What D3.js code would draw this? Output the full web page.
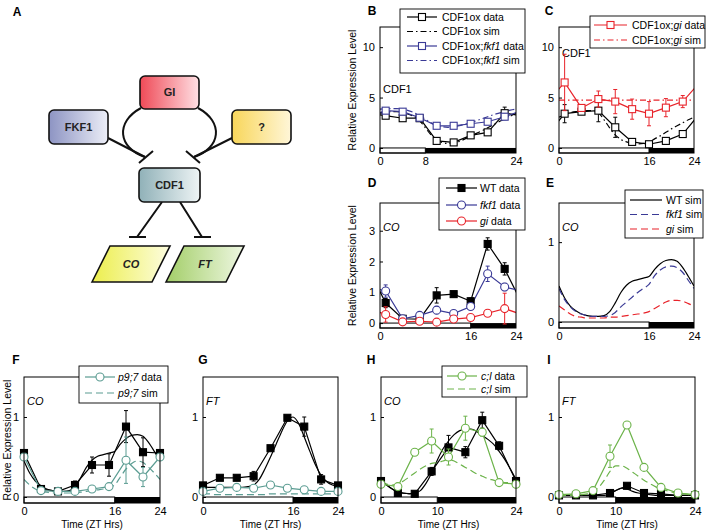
<!DOCTYPE html>
<html>
<head>
<meta charset="utf-8">
<script src="https://cdn.jsdelivr.net/npm/d3@7"></script>
<style>
body { margin: 0; background: #fff; }
svg { font-family: "Liberation Sans", Arial, sans-serif; }
</style>
</head>
<body>
<svg id="fig" width="709" height="532"></svg>
<script>
// ---- sample times ----
var hoursB = [1, 4, 7, 10, 13, 16, 19, 22];          // panels B-D, wrap around the day
var hoursF = [0, 3, 6, 9, 12, 15, 18, 21, 24];       // panels F-I
var simHours = [0,1,2,3,4,5,6,7,8,9,10,11,12,13,14,15,16,17,18,19,20,21,22,23,24];

// ---- B: CDF1 in CDF1ox / CDF1ox;fkf1 ----
var cdfoxData = [3.2, 2.95, 2.95, 0.7, 0.55, 1.25, 1.55, 3.45];
var cdfoxErr  = [0.15, 0.1, 0.1, 0.15, 0.2, 0.1, 0.1, 0.6];
var cdfoxFkfData = [3.7, 3.6, 3.0, 2.2, 2.2, 2.4, 2.6, 3.1];
var cdfoxFkfErr  = [0.1, 0.1, 0.1, 0.1, 0.1, 0.1, 0.1, 0.3];
var cdfoxSimB = [3.45,3.55,3.6,3.6,3.5,3.35,3.1,2.7,2.0,1.3,0.8,0.55,0.45,0.5,0.65,0.9,1.2,1.45,1.7,2.0,2.3,2.6,2.9,3.15,3.45];
var cdfoxFkfSim = [3.85,3.9,3.9,3.9,3.85,3.7,3.5,3.2,2.85,2.5,2.25,2.1,2.05,2.1,2.2,2.35,2.5,2.7,2.9,3.1,3.3,3.45,3.6,3.75,3.85];

// ---- C: CDF1 in CDF1ox / CDF1ox;gi ----
var cdfoxDataC = [3.4, 3.6, 3.7, 2.05, 0.6, 0.37, 0.7, 1.38];
var cdfoxErrC  = [0.9, 0.1, 1.1, 1.0, 0.1, 0.1, 0.1, 0.1];
var cdfoxGiData = [6.5, 3.97, 4.85, 4.6, 3.85, 3.4, 4.0, 4.6];
var cdfoxGiErr  = [2.8, 0.3, 0.8, 1.2, 1.0, 1.2, 0.9, 0.6];
var cdfoxSimC = [3.05,3.3,3.5,3.6,3.65,3.7,3.7,3.5,2.8,2.0,1.3,0.85,0.6,0.45,0.4,0.45,0.6,0.9,1.2,1.55,1.9,2.2,2.5,2.8,3.05];
var cdfoxGiSim = [4.75,4.75,4.75,4.75,4.75,4.75,4.75,4.75,4.75,4.75,4.75,4.75,4.75,4.75,4.75,4.75,4.75,4.75,4.75,4.75,4.75,4.75,4.75,4.75,4.75];

// ---- D: CO data in WT / fkf1 / gi ----
var coWT   = [0.65, 0.14, 0.13, 0.9, 0.94, 0.71, 2.57, 1.76];
var coWTErr = [0.15, 0.03, 0.03, 0.25, 0.05, 0.1, 0.2, 0.2];
var coFkf1 = [1.04, 0.14, 0.25, 0.42, 0.31, 0.54, 1.6, 1.17];
var coFkf1Err = [0.2, 0.03, 0.03, 0.12, 0.05, 0.05, 0.25, 0.12];
var coGi   = [0.28, 0.04, 0.06, 0.03, 0.13, 0.18, 0.32, 0.47];
var coGiErr = [0.25, 0.02, 0.02, 0.02, 0.03, 0.03, 0.1, 0.5];

// ---- E: CO simulations ----
var simCoWT   = [0.45,0.3,0.2,0.14,0.1,0.08,0.07,0.07,0.08,0.13,0.24,0.37,0.46,0.51,0.53,0.55,0.57,0.66,0.73,0.77,0.78,0.76,0.68,0.57,0.45];
var simCoFkf1 = [0.42,0.28,0.19,0.13,0.1,0.08,0.07,0.07,0.07,0.08,0.12,0.19,0.25,0.31,0.37,0.42,0.47,0.58,0.65,0.69,0.7,0.68,0.62,0.52,0.42];
var simCoGi   = [0.2,0.15,0.1,0.07,0.06,0.05,0.05,0.05,0.05,0.06,0.06,0.07,0.08,0.09,0.1,0.11,0.13,0.17,0.21,0.25,0.27,0.27,0.26,0.23,0.2];

// ---- F, G: p9;7 ----
var coWTF = [0.55, 0.1, 0.07, 0.15, 0.4, 0.4, 0.88, 0.56, 0.55];
var coWTFErr = [0, 0.02, 0.02, 0.05, 0.1, 0.14, 0.2, 0.18, 0];
var coP97 = [0.5, 0.08, 0.07, 0.07, 0.1, 0.13, 0.46, 0.25, 0.5];
var coP97Err = [0, 0, 0, 0, 0.02, 0.03, 0.29, 0.12, 0];
var simCoP97 = [0.22,0.15,0.1,0.07,0.06,0.05,0.05,0.05,0.05,0.05,0.06,0.07,0.08,0.09,0.1,0.12,0.15,0.25,0.35,0.42,0.45,0.43,0.37,0.3,0.22];
var ftWTG = [0.145, 0.24, 0.24, 0.26, 0.61, 0.99, 0.88, 0.22, 0.145];
var ftWTGErr = [0, 0.03, 0.03, 0.06, 0.03, 0.02, 0.12, 0.06, 0];
var ftP97 = [0.07, 0.11, 0.12, 0.11, 0.15, 0.11, 0.09, 0.07, 0.07];
var simFtWT = [0.13,0.12,0.12,0.12,0.12,0.12,0.12,0.12,0.13,0.15,0.22,0.35,0.5,0.66,0.82,0.95,1.0,0.92,0.75,0.57,0.4,0.27,0.19,0.15,0.13];
var simFtP97 = [0.04,0.04,0.03,0.03,0.03,0.03,0.03,0.03,0.03,0.03,0.03,0.03,0.04,0.04,0.04,0.04,0.04,0.04,0.04,0.04,0.04,0.04,0.04,0.04,0.04];

// ---- H, I: c;l ----
var coWTH = [0.2, 0.05, 0.04, 0.32, 0.62, 0.56, 0.96, 0.64, 0.2];
var coWTHErr = [0, 0.01, 0.01, 0.05, 0.15, 0.07, 0.1, 0.05, 0];
var coCl = [0.16, 0.13, 0.56, 0.7, 0.5, 0.86, 0.81, 0.18, 0.16];
var coClErr = [0, 0.02, 0.03, 0.15, 0.1, 0.15, 0.05, 0, 0];
var simCoWTH = [0.22,0.15,0.1,0.07,0.05,0.04,0.05,0.08,0.17,0.3,0.46,0.6,0.7,0.78,0.83,0.85,0.85,0.82,0.77,0.72,0.66,0.57,0.47,0.35,0.22];
var simCoCl = [0.18,0.16,0.15,0.16,0.2,0.25,0.3,0.35,0.39,0.42,0.43,0.45,0.47,0.45,0.41,0.37,0.33,0.29,0.26,0.23,0.21,0.19,0.18,0.18,0.18];
var ftWTI = [0.02, 0.02, 0.02, 0.05, 0.14, 0.05, 0.04, 0.02, 0.02];
var ftCl = [0.03, 0.04, 0.08, 0.51, 0.9, 0.37, 0.12, 0.05, 0.03];
var ftClErr = [0, 0, 0, 0.14, 0, 0, 0, 0, 0];
var simFtWTI = [0.02,0.02,0.02,0.02,0.02,0.02,0.02,0.02,0.02,0.04,0.08,0.11,0.1,0.07,0.05,0.04,0.03,0.02,0.02,0.02,0.02,0.02,0.02,0.02,0.02];
var simFtCl = [0.02,0.02,0.02,0.02,0.03,0.04,0.07,0.12,0.21,0.32,0.39,0.39,0.36,0.31,0.26,0.21,0.17,0.13,0.1,0.08,0.06,0.05,0.04,0.03,0.02];

// ---- styles ----
var BLUE = "#3a3a96", RED = "#e8232a", TEAL = "#5b9c92", GREEN = "#6cb34a";
var dashDot = "6,3,1.5,3", dashed = "7,4";

var svg = d3.select("#fig");
var defs = svg.append("defs");

// ================= Panel A: schematic =================
function grad(id, c0, c1) {
	var lg = defs.append("linearGradient").attr("id", id).attr("x1", "0%").attr("x2", "100%");
	lg.append("stop").attr("offset", "0%").attr("stop-color", c0);
	lg.append("stop").attr("offset", "100%").attr("stop-color", c1);
}
grad("gGI", "#ef4a57", "#ffe0e4");
grad("gFKF", "#8d94c3", "#eceef7");
grad("gQ", "#f8d65a", "#fff6d8");
grad("gCDF", "#90b1b8", "#eef4f5");
grad("gCO", "#ecee4c", "#fdfde0");
grad("gFT", "#a3ce68", "#eef7e2");

var diag = svg.append("g").attr("stroke", "#111").attr("stroke-width", 2).attr("fill", "none");
diag.append("path").attr("d", "M141,108 C115,122 118,148 145,157");
diag.append("path").attr("d", "M198,108 C224,122 221,148 194,157");
diag.append("path").attr("d", "M108,138 L145,157");
diag.append("path").attr("d", "M232,138 L194,157");
diag.append("path").attr("d", "M139,163 L153,151 M186,151 L200,163");
diag.append("path").attr("d", "M162,202 L137,237 M129,237 L146,237");
diag.append("path").attr("d", "M180,202 L202,237 M194,237 L211,237");

var boxes = [
	{ t: "GI", x: 140, y: 76, w: 59, h: 33, f: "gGI" },
	{ t: "FKF1", x: 49, y: 110, w: 59, h: 34, f: "gFKF" },
	{ t: "?", x: 232, y: 110, w: 59, h: 34, f: "gQ" },
	{ t: "CDF1", x: 139, y: 168, w: 61, h: 34, f: "gCDF" }
];
boxes.forEach(function(b) {
	svg.append("rect").attr("x", b.x).attr("y", b.y).attr("width", b.w).attr("height", b.h)
		.attr("rx", 5).attr("fill", "url(#" + b.f + ")").attr("stroke", "#111").attr("stroke-width", 1.6);
	svg.append("text").attr("x", b.x + b.w / 2).attr("y", b.y + b.h / 2).attr("dy", "0.36em")
		.attr("text-anchor", "middle").style("font-size", "11px").style("font-weight", "bold").attr("fill", "#222").text(b.t);
});
var paras = [
	{ t: "CO", p: "M92,282 L110,246 L170,246 L152,282 Z", f: "gCO", cx: 131 },
	{ t: "FT", p: "M166,282 L184,246 L244,246 L226,282 Z", f: "gFT", cx: 205 }
];
paras.forEach(function(b) {
	svg.append("path").attr("d", b.p).attr("fill", "url(#" + b.f + ")").attr("stroke", "#111").attr("stroke-width", 1.6);
	svg.append("text").attr("x", b.cx).attr("y", 264).attr("dy", "0.36em").attr("text-anchor", "middle")
		.style("font-size", "11px").style("font-weight", "bold").style("font-style", "italic").attr("fill", "#222").text(b.t);
});

// ================= chart panels =================
function panel(o) {
	var x = d3.scaleLinear().domain([0, 24]).range([o.left, o.right]);
	var y = d3.scaleLinear().domain(o.ydom).range([o.bottom, o.top]);
	var clipId = "clip" + o.name;
	defs.append("clipPath").attr("id", clipId).append("rect")
		.attr("x", o.left).attr("y", o.top).attr("width", o.right - o.left).attr("height", o.bottom - o.top);
	var g = svg.append("g");
	g.append("rect").attr("x", o.left).attr("y", o.top).attr("width", o.right - o.left).attr("height", o.bottom - o.top).attr("fill", "#fff");

	// day / night bar
	g.append("rect").attr("x", x(0)).attr("y", y(0)).attr("width", x(o.night) - x(0)).attr("height", o.bottom - y(0))
		.attr("fill", "#fff").attr("stroke", "#000").attr("stroke-width", 1);
	g.append("rect").attr("x", x(o.night)).attr("y", y(0)).attr("width", x(24) - x(o.night)).attr("height", o.bottom - y(0)).attr("fill", "#000");

	var yAxis = g.append("g").attr("transform", "translate(" + o.left + ",0)")
		.call(d3.axisLeft(y).tickValues(o.yticks).tickFormat(d3.format("d")).tickSizeInner(-3).tickSizeOuter(0).tickPadding(5));
	var xAxis = g.append("g").attr("transform", "translate(0," + o.bottom + ")")
		.call(d3.axisBottom(x).tickValues(o.xticks).tickFormat(d3.format("d")).tickSize(0).tickPadding(4));
	[yAxis, xAxis].forEach(function(a) {
		a.select(".domain").remove();
		a.selectAll("text").style("font-size", "11px").attr("fill", "#000");
		a.selectAll("line").attr("stroke", "#000");
	});

	var plot = g.append("g").attr("clip-path", "url(#" + clipId + ")");
	var top = svg.append("g");
	var p = { x: x, y: y, g: g, plot: plot, top: top, o: o };

	g.append("text").attr("x", o.left + 3).attr("y", o.top + o.tagDy).attr("dy", "0.35em")
		.style("font-size", "11px").style("font-style", o.tagItalic ? "italic" : "normal").text(o.tag);

	if (o.ylabel) {
		g.append("text").attr("transform", "translate(" + o.ylabelX + "," + ((o.top + o.bottom) / 2) + ") rotate(-90)")
			.attr("text-anchor", "middle").attr("dy", "0.35em").style("font-size", "10.5px").text("Relative Expression Level");
	}
	if (o.xlabel) {
		g.append("text").attr("x", (o.left + o.right) / 2).attr("y", o.bottom + 21.5).attr("dy", "0.35em")
			.attr("text-anchor", "middle").style("font-size", "10px").text("Time (ZT Hrs)");
	}
	svg.append("text").attr("x", o.letter[0]).attr("y", o.letter[1]).attr("dy", "0.36em").attr("text-anchor", "middle")
		.style("font-size", "12px").style("font-weight", "bold").text(o.name);
	return p;
}

function finishPanel(p) {
	var o = p.o;
	p.top.append("rect").attr("x", o.left).attr("y", o.top).attr("width", o.right - o.left).attr("height", o.bottom - o.top)
		.attr("fill", "none").attr("stroke", "#000").attr("stroke-width", 1);
}

function marker(g, cx, cy, st) {
	if (st.marker === "sq") {
		g.append("rect").attr("x", cx - 3.5).attr("y", cy - 3.5).attr("width", 7).attr("height", 7)
			.attr("fill", st.filled ? st.color : "#fff").attr("stroke", st.color).attr("stroke-width", 1.1);
	} else if (st.marker === "ci") {
		g.append("circle").attr("cx", cx).attr("cy", cy).attr("r", 4)
			.attr("fill", "#fff").attr("stroke", st.color).attr("stroke-width", 1.1);
	}
}

function series(p, times, vals, st, err) {
	var pts = times.map(function(t, i) { return [t, vals[i]]; });
	if (st.wrap) {
		pts = pts.map(function(d) { return [d[0] - 24, d[1]]; })
			.concat(pts, pts.map(function(d) { return [d[0] + 24, d[1]]; }));
	}
	var line = d3.line().x(function(d) { return p.x(d[0]); }).y(function(d) { return p.y(d[1]); });
	if (st.smooth) line.curve(d3.curveMonotoneX);
	p.plot.append("path").attr("d", line(pts)).attr("fill", "none").attr("stroke", st.color)
		.attr("stroke-width", 1.2).attr("stroke-dasharray", st.dash || null);
	if (err) {
		times.forEach(function(t, i) {
			if (!err[i]) return;
			var cx = p.x(t), y1 = p.y(vals[i] - err[i]), y2 = p.y(vals[i] + err[i]);
			p.top.append("path").attr("d", "M" + cx + "," + y1 + "V" + y2 + "M" + (cx - 2) + "," + y1 + "h4M" + (cx - 2) + "," + y2 + "h4")
				.attr("stroke", st.color).attr("stroke-width", 1).attr("fill", "none");
		});
	}
	if (st.marker) {
		times.forEach(function(t, i) { marker(p.top, p.x(t), p.y(vals[i]), st); });
	}
}

function legend(L) {
	var g = svg.append("g");
	g.append("rect").attr("x", L.x).attr("y", L.y).attr("width", L.w).attr("height", L.h)
		.attr("fill", "#fff").attr("stroke", "#000").attr("stroke-width", 0.9);
	L.items.forEach(function(it, i) {
		var cy = L.rows[i], st = it.st;
		g.append("line").attr("x1", L.lx0).attr("x2", L.lx1).attr("y1", cy).attr("y2", cy)
			.attr("stroke", st.color).attr("stroke-width", 1.2).attr("stroke-dasharray", st.dash || null);
		if (st.marker) marker(g, (L.lx0 + L.lx1) / 2, cy, st);
		var t = g.append("text").attr("x", L.tx).attr("y", cy).attr("dy", "0.35em").style("font-size", "10.5px");
		it.parts.forEach(function(pt) {
			t.append("tspan").style("font-style", pt[1] ? "italic" : "normal").text(pt[0]);
		});
	});
}

var sBlackSq = { color: "#000", marker: "sq", wrap: true };
var sBlackSim = { color: "#000", dash: dashDot, smooth: true };
var sBlueSq = { color: BLUE, marker: "sq", wrap: true };
var sBlueSim = { color: BLUE, dash: dashDot, smooth: true };
var sRedSq = { color: RED, marker: "sq", wrap: true };
var sRedSim = { color: RED, dash: dashDot, smooth: true };
var sWT = { color: "#000", marker: "sq", filled: true, wrap: true };
var sFkf = { color: BLUE, marker: "ci", wrap: true };
var sGi = { color: RED, marker: "ci", wrap: true };
var sWTsim = { color: "#000", smooth: true };
var sFkfSim = { color: BLUE, dash: dashed, smooth: true };
var sGiSim = { color: RED, dash: dashed, smooth: true };
var sWT3 = { color: "#000", marker: "sq", filled: true };
var sP97 = { color: TEAL, marker: "ci" };
var sP97Sim = { color: TEAL, dash: dashed, smooth: true };
var sCl = { color: GREEN, marker: "ci" };
var sClSim = { color: GREEN, dash: dashed, smooth: true };

var bigY = { top: 27, bottom: 153, ydom: [-0.5, 12], yticks: [0, 5, 10] };
var lowY = { top: 377, bottom: 503, ydom: [-0.075, 1.5], yticks: [0, 1] };

// B
var pB = panel(Object.assign({ name: "B", left: 380, right: 516, xticks: [0, 8, 24], night: 8, tag: "CDF1", tagDy: 62,
	ylabel: true, ylabelX: 352, letter: [372, 11] }, bigY));
series(pB, hoursB, cdfoxData, sBlackSq, cdfoxErr);
series(pB, simHours, cdfoxSimB, sBlackSim);
series(pB, hoursB, cdfoxFkfData, sBlueSq, cdfoxFkfErr);
series(pB, simHours, cdfoxFkfSim, sBlueSim);
finishPanel(pB);

// C
var pC = panel(Object.assign({ name: "C", left: 559, right: 694, xticks: [0, 16, 24], night: 16, tag: "CDF1", tagDy: 26,
	letter: [549, 11] }, bigY));
series(pC, hoursB, cdfoxDataC, sBlackSq, cdfoxErrC);
series(pC, simHours, cdfoxSimC, sBlackSim);
series(pC, hoursB, cdfoxGiData, sRedSq, cdfoxGiErr);
series(pC, simHours, cdfoxGiSim, sRedSim);
finishPanel(pC);

// D
var pD = panel({ name: "D", left: 380, right: 516, top: 203, bottom: 328, ydom: [-0.16, 3.9], yticks: [0, 1, 2, 3],
	xticks: [0, 16, 24], night: 16, tag: "CO", tagItalic: true, tagDy: 24, ylabel: true, ylabelX: 352, letter: [372, 183] });
series(pD, hoursB, coWT, sWT, coWTErr);
series(pD, hoursB, coFkf1, sFkf, coFkf1Err);
series(pD, hoursB, coGi, sGi, coGiErr);
finishPanel(pD);

// E
var pE = panel({ name: "E", left: 559, right: 694, top: 203, bottom: 328, ydom: [-0.075, 1.49], yticks: [0, 1],
	xticks: [0, 16, 24], night: 16, tag: "CO", tagItalic: true, tagDy: 24, letter: [550, 183] });
series(pE, simHours, simCoWT, sWTsim);
series(pE, simHours, simCoFkf1, sFkfSim);
series(pE, simHours, simCoGi, sGiSim);
finishPanel(pE);

// F
var pF = panel(Object.assign({ name: "F", left: 24, right: 160, xticks: [0, 16, 24], night: 16, tag: "CO", tagItalic: true, tagDy: 24,
	ylabel: true, ylabelX: 7, xlabel: true, letter: [16, 360] }, lowY));
series(pF, hoursF, coWTF, sWT3, coWTFErr);
series(pF, simHours, simCoWT, sWTsim);
series(pF, hoursF, coP97, sP97, coP97Err);
series(pF, simHours, simCoP97, sP97Sim);
finishPanel(pF);

// G
var pG = panel(Object.assign({ name: "G", left: 203, right: 338, xticks: [0, 16, 24], night: 16, tag: "FT", tagItalic: true, tagDy: 24,
	xlabel: true, letter: [203, 360] }, lowY));
series(pG, hoursF, ftWTG, sWT3, ftWTGErr);
series(pG, simHours, simFtWT, sWTsim);
series(pG, hoursF, ftP97, sP97);
series(pG, simHours, simFtP97, sP97Sim);
finishPanel(pG);

// H
var pH = panel(Object.assign({ name: "H", left: 381, right: 516, xticks: [0, 10, 24], night: 10, tag: "CO", tagItalic: true, tagDy: 24,
	xlabel: true, letter: [371, 360] }, lowY));
series(pH, hoursF, coWTH, sWT3, coWTHErr);
series(pH, simHours, simCoWTH, sWTsim);
series(pH, hoursF, coCl, sCl, coClErr);
series(pH, simHours, simCoCl, sClSim);
finishPanel(pH);

// I
var pI = panel(Object.assign({ name: "I", left: 559, right: 695, xticks: [0, 10, 24], night: 10, tag: "FT", tagItalic: true, tagDy: 24,
	xlabel: true, letter: [549, 360] }, lowY));
series(pI, hoursF, ftWTI, sWT3);
series(pI, simHours, simFtWTI, sWTsim);
series(pI, hoursF, ftCl, sCl, ftClErr);
series(pI, simHours, simFtCl, sClSim);
finishPanel(pI);

// panel A letter
svg.append("text").attr("x", 17).attr("y", 12).attr("dy", "0.36em").attr("text-anchor", "middle")
	.style("font-size", "12px").style("font-weight", "bold").text("A");

// legends
legend({ x: 400, y: 9, w: 125, h: 64, lx0: 407, lx1: 437, tx: 442, rows: [17, 31.5, 46, 60.5], items: [
	{ st: sBlackSq, parts: [["CDF1ox data"]] },
	{ st: sBlackSim, parts: [["CDF1ox sim"]] },
	{ st: sBlueSq, parts: [["CDF1ox;"], ["fkf1", 1], [" data"]] },
	{ st: sBlueSim, parts: [["CDF1ox;"], ["fkf1", 1], [" sim"]] }
] });
legend({ x: 590, y: 16, w: 115, h: 32, lx0: 594, lx1: 627, tx: 632, rows: [25, 40], items: [
	{ st: sRedSq, parts: [["CDF1ox;"], ["gi", 1], [" data"]] },
	{ st: sRedSim, parts: [["CDF1ox;"], ["gi", 1], [" sim"]] }
] });
legend({ x: 439, y: 178, w: 86, h: 52, lx0: 446, lx1: 477, tx: 480, rows: [188, 205, 221], items: [
	{ st: sWT, parts: [["WT data"]] },
	{ st: sFkf, parts: [["fkf1", 1], [" data"]] },
	{ st: sGi, parts: [["gi", 1], [" data"]] }
] });
legend({ x: 625, y: 190, w: 78, h: 48, lx0: 630, lx1: 662, tx: 666, rows: [200, 214.5, 229], items: [
	{ st: sWTsim, parts: [["WT sim"]] },
	{ st: sFkfSim, parts: [["fkf1", 1], [" sim"]] },
	{ st: sGiSim, parts: [["gi", 1], [" sim"]] }
] });
legend({ x: 79, y: 366, w: 89, h: 37, lx0: 85, lx1: 115, tx: 118, rows: [377, 393], items: [
	{ st: sP97, parts: [["p9;7", 1], [" data"]] },
	{ st: sP97Sim, parts: [["p9;7", 1], [" sim"]] }
] });
legend({ x: 442, y: 366, w: 85, h: 31, lx0: 447, lx1: 477, tx: 481, rows: [376, 389], items: [
	{ st: sCl, parts: [["c;l", 1], [" data"]] },
	{ st: sClSim, parts: [["c;l", 1], [" sim"]] }
] });
</script>
</body>
</html>
